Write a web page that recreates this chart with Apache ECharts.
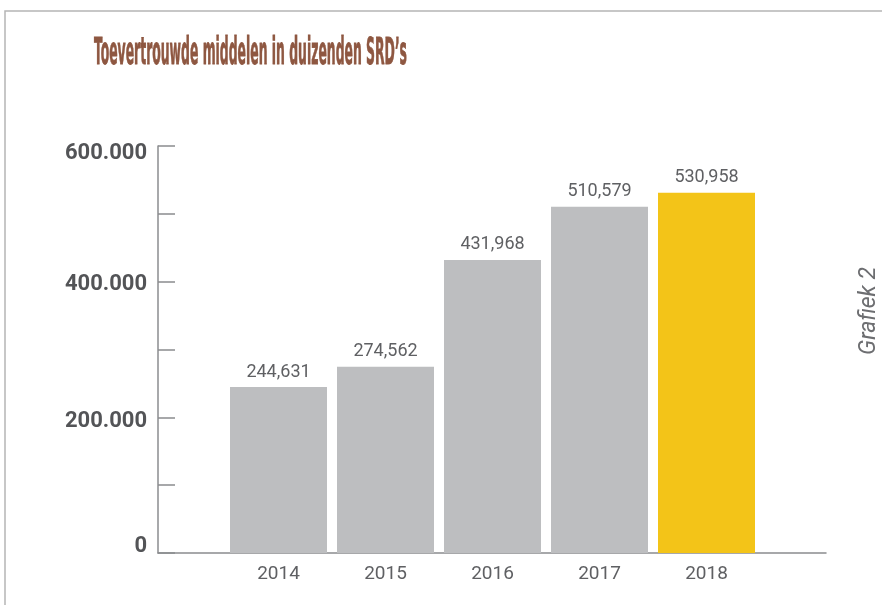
<!DOCTYPE html>
<html>
<head>
<meta charset="utf-8">
<script src="https://cdn.jsdelivr.net/npm/echarts@6/dist/echarts.min.js"></script>
<style>
  html, body { margin: 0; padding: 0; background: #ffffff; }
  #chart { width: 882px; height: 605px; }
</style>
</head>
<body>
<div id="chart"></div>
<script>
// data
const years = ["2014", "2015", "2016", "2017", "2018"];
const values = [244631, 274562, 431968, 510579, 530958];
const barColors = ["#bdbec0", "#bdbec0", "#bdbec0", "#bdbec0", "#f3c418"];
const yMax = 600000;
const yStep = 100000;
const titleText = "Toevertrouwde middelen in duizenden SRD\u2019s";
const sideText = "Grafiek 2";

function groupDigits(v, sep) {
  return String(v).replace(/\B(?=(\d{3})+(?!\d))/g, sep);
}

// title is a very condensed heavy face, squeeze a bold font to the same width
const titleFamily = '"Liberation Sans Narrow", "DejaVu Sans Condensed", sans-serif';
const titleSize = 37;
const ctx = document.createElement("canvas").getContext("2d");
ctx.font = "bold " + titleSize + "px " + titleFamily;
const titleScale = 313 / ctx.measureText(titleText).width;

const axisColor = "#8b8c8f";
const textGray = "#5f6063";

const chart = echarts.init(document.getElementById("chart"));
chart.setOption({
  animation: false,
  backgroundColor: "#ffffff",
  graphic: [
    {
      type: "polyline",
      shape: { points: [[5, 605], [5, 11], [882, 11]] },
      style: { stroke: "#b5b5b5", lineWidth: 1.5, fill: null }
    },
    {
      type: "text",
      x: 94,
      y: 54,
      scaleX: titleScale,
      style: {
        text: titleText,
        fontFamily: titleFamily,
        fontWeight: "bold",
        fontSize: titleSize,
        fill: "#8e5741",
        stroke: "#8e5741",
        lineWidth: 0.8,
        align: "left",
        verticalAlign: "middle"
      }
    },
    {
      type: "text",
      x: 869,
      y: 311,
      rotation: Math.PI / 2,
      style: {
        text: sideText,
        fontFamily: "Roboto",
        fontStyle: "italic",
        fontSize: 23,
        fill: "#6d6e71",
        align: "center",
        verticalAlign: "middle"
      }
    }
  ],
  grid: [
    { left: 158, right: 56, top: 146, bottom: 52 },
    { left: 225, right: 122, top: 146, bottom: 52 }
  ],
  xAxis: [
    {
      gridIndex: 0,
      type: "category",
      data: [""],
      boundaryGap: true,
      axisLine: { lineStyle: { color: axisColor, width: 1.5 } },
      axisTick: { inside: true, length: 9, lineStyle: { color: axisColor, width: 1.5 } },
      axisLabel: { show: false }
    },
    {
      gridIndex: 1,
      type: "category",
      data: years,
      axisLine: { show: false },
      axisTick: { show: false },
      axisLabel: {
        fontFamily: "Roboto",
        fontSize: 19,
        color: textGray,
        margin: 12
      }
    }
  ],
  yAxis: [
    {
      gridIndex: 0,
      type: "value",
      min: 0,
      max: yMax,
      interval: yStep,
      axisLine: { show: true, lineStyle: { color: axisColor, width: 1.5 } },
      axisTick: { show: true, inside: true, length: 17, lineStyle: { color: axisColor, width: 1.5 } },
      splitLine: { show: false },
      axisLabel: {
        margin: 11,
        formatter: function (v) {
          if (v % 200000 !== 0) return "";
          return "{v" + v / 1000 + "|" + groupDigits(v, ".") + "}";
        },
        rich: {
          v0: { fontFamily: "Roboto", fontWeight: "bold", fontSize: 22, color: "#535457", padding: [0, 0, 14, 0] },
          v200: { fontFamily: "Roboto", fontWeight: "bold", fontSize: 22, color: "#535457", padding: [8, 0, 0, 0] },
          v400: { fontFamily: "Roboto", fontWeight: "bold", fontSize: 22, color: "#535457", padding: [6, 0, 0, 0] },
          v600: { fontFamily: "Roboto", fontWeight: "bold", fontSize: 22, color: "#535457", padding: [14, 0, 0, 0] }
        }
      }
    },
    {
      gridIndex: 1,
      type: "value",
      min: 0,
      max: yMax,
      show: false
    }
  ],
  series: [
    {
      type: "bar",
      xAxisIndex: 1,
      yAxisIndex: 1,
      barWidth: 97,
      data: values.map(function (v, i) {
        return { value: v, itemStyle: { color: barColors[i] } };
      }),
      label: {
        show: true,
        position: "top",
        distance: 6,
        fontFamily: "Roboto",
        fontSize: 18,
        color: textGray,
        formatter: function (p) {
          return groupDigits(p.value, ",");
        }
      }
    }
  ]
});
</script>
</body>
</html>
